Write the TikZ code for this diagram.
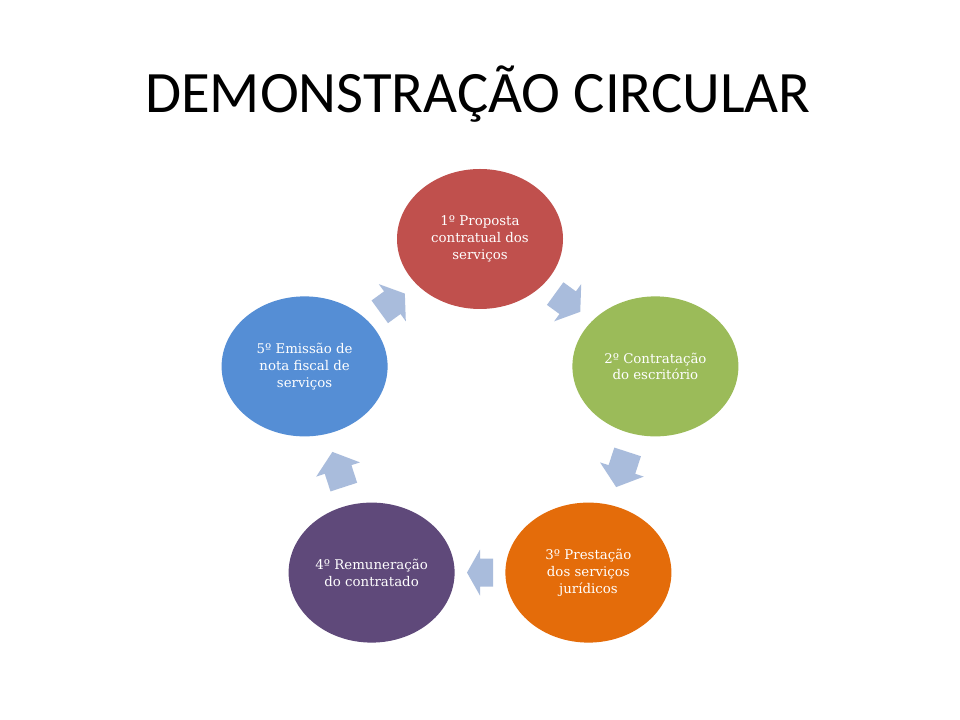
\documentclass[tikz,border=0pt]{standalone}
\usepackage{fontspec}
\setmainfont{DejaVu Serif}
\newfontfamily\titlefont{Carlito}
\usetikzlibrary{shapes.geometric,calc}
\definecolor{cred}{HTML}{C0504D}
\definecolor{cgreen}{HTML}{9BBB59}
\definecolor{corange}{HTML}{E46C0A}
\definecolor{cpurple}{HTML}{5F497A}
\definecolor{cblue}{HTML}{558ED5}
\definecolor{carrow}{HTML}{A9BCDC}
\tikzset{
  stepell/.style={ellipse, draw=none, minimum width=124.5pt, minimum height=105pt,
    inner sep=0pt, text=white, align=center,
    font=\fontsize{10}{12.6}\selectfont},
  pics/cyclearrow/.style={code={
    \fill[carrow] (-#1/2,-14) -- (0,-14) -- (0,-23) -- (#1/2,0) -- (0,23) -- (0,14) -- (-#1/2,14) -- cycle;
  }}
}
\begin{document}
\begin{tikzpicture}[x=0.75pt,y=0.75pt]
\useasboundingbox (0,0) rectangle (960,720);
\fill[white] (0,0) rectangle (960,720);
\node[font=\titlefont\fontsize{44}{52}\selectfont, anchor=base] (title) at (478,607.5) {DEMONSTRAÇÃO CIRCULAR};
\node[stepell, fill=cred] (e1) at (480,481) {1º Proposta\\contratual dos\\serviços};
\node[stepell, fill=cgreen] (e2) at (655.4,353.6) {2º Contratação\\do escritório};
\node[stepell, fill=corange] (e3) at (588.4,147.4) {3º Prestação\\dos serviços\\jurídicos};
\node[stepell, fill=cpurple] (e4) at (371.6,147.4) {4º Remuneração\\do contratado};
\node[stepell, fill=cblue] (e5) at (304.6,353.6) {5º Emissão de\\nota fiscal de\\serviços};
\pic[rotate=-36] (a12) at ($(e1)!0.5!(e2)$) {cyclearrow=31};
\pic[rotate=-108] (a23) at ($(e2)!0.5!(e3)$) {cyclearrow=37};
\pic[rotate=180] (a34) at ($(e3)!0.5!(e4)$) {cyclearrow=26};
\pic[rotate=108] (a45) at ($(e4)!0.5!(e5)$) {cyclearrow=37};
\pic[rotate=36] (a51) at ($(e5)!0.5!(e1)$) {cyclearrow=31};
\end{tikzpicture}
\end{document}
